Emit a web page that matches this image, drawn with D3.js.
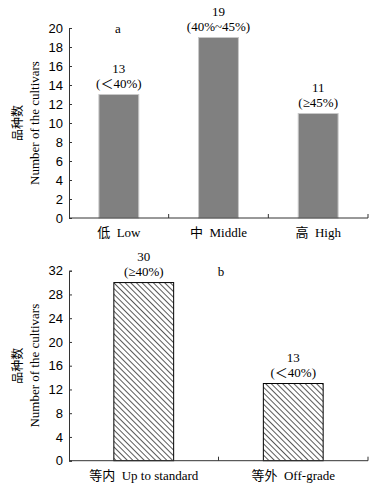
<!DOCTYPE html>
<html>
<head>
<meta charset="utf-8">
<script src="https://cdn.jsdelivr.net/npm/d3@7"></script>
<style>
  body { margin: 0; background: #fff; }
  svg { display: block; font-family: "Liberation Serif", "Noto Sans CJK SC", serif; }
  .tick text { font-size: 13px; fill: #000; }
</style>
</head>
<body>
<div id="chart"></div>
<script>
// panel a: amylose content groups
const catsA = ["低  Low", "中  Middle", "高  High"];
const valsA = [13, 19, 11];
const notesA = ["(＜40%)", "(40%~45%)", "(≥45%)"];
const ticksA = [0, 2, 4, 6, 8, 10, 12, 14, 16, 18, 20];

// panel b: standard grade
const catsB = ["等内  Up to standard", "等外  Off-grade"];
const valsB = [30, 13];
const notesB = ["(≥40%)", "(＜40%)"];
const ticksB = [0, 4, 8, 12, 16, 20, 24, 28, 32];

const W = 381, H = 493;
const svg = d3.select("#chart").append("svg")
  .attr("width", W).attr("height", H);

const defs = svg.append("defs");
const pat = defs.append("pattern")
  .attr("id", "hatch")
  .attr("patternUnits", "userSpaceOnUse")
  .attr("width", 4).attr("height", 4)
  .attr("patternTransform", "rotate(-45)");
pat.append("rect").attr("width", 4).attr("height", 4).attr("fill", "#fff");
pat.append("line").attr("x1", 0).attr("y1", 0).attr("x2", 0).attr("y2", 4)
  .attr("stroke", "#000").attr("stroke-width", 1.3);

function panel(cats, vals, notes, ticks, top, bottom, fill, stroke, letter, letterX) {
  const left = 69, right = 368;
  const x = d3.scaleBand().domain(cats).range([left, right])
    .paddingInner(0.6).paddingOuter(0.3);
  const y = d3.scaleLinear().domain([0, d3.max(ticks)]).range([bottom, top]);
  const g = svg.append("g");

  // bars
  g.selectAll("rect.bar").data(cats).join("rect")
    .attr("class", "bar")
    .attr("x", d => x(d))
    .attr("width", x.bandwidth())
    .attr("y", (d, i) => y(vals[i]))
    .attr("height", (d, i) => y(0) - y(vals[i]))
    .attr("fill", fill)
    .attr("stroke", stroke)
    .attr("stroke-width", 1);

  // y axis, ticks pointing inward
  const yAxis = d3.axisLeft(y).tickValues(ticks).tickSize(-3).tickPadding(6);
  g.append("g").attr("transform", `translate(${left},0)`).call(yAxis)
    .call(s => s.select(".domain").attr("stroke", "#333"))
    .call(s => s.selectAll(".tick line").attr("stroke", "#333"));

  // x axis line with small ticks between groups
  g.append("line").attr("x1", left).attr("x2", right)
    .attr("y1", y(0)).attr("y2", y(0)).attr("stroke", "#333");
  g.selectAll("line.sep").data(cats).join("line")
    .attr("class", "sep")
    .attr("x1", (d, i) => left + (i + 1) * (right - left) / cats.length)
    .attr("x2", (d, i) => left + (i + 1) * (right - left) / cats.length)
    .attr("y1", y(0)).attr("y2", y(0) - 4).attr("stroke", "#333");

  // category labels
  g.selectAll("text.cat").data(cats).join("text")
    .attr("class", "cat")
    .attr("x", d => x(d) + x.bandwidth() / 2)
    .attr("y", y(0) + 19)
    .attr("text-anchor", "middle")
    .attr("font-size", 13)
    .style("white-space", "pre")
    .text(d => d);

  // value labels
  g.selectAll("text.val").data(cats).join("text")
    .attr("class", "val")
    .attr("x", d => x(d) + x.bandwidth() / 2)
    .attr("y", (d, i) => y(vals[i]) - 22)
    .attr("text-anchor", "middle").attr("font-size", 13)
    .text((d, i) => vals[i]);
  g.selectAll("text.note").data(cats).join("text")
    .attr("class", "note")
    .attr("x", d => x(d) + x.bandwidth() / 2)
    .attr("y", (d, i) => y(vals[i]) - 7)
    .attr("text-anchor", "middle").attr("font-size", 13)
    .text((d, i) => notes[i]);

  // panel letter
  g.append("text").attr("x", letterX).attr("y", top + 5)
    .attr("text-anchor", "middle").attr("font-size", 13).text(letter);

  // y title
  const cy = (top + bottom) / 2;
  g.append("text").attr("transform", `translate(22,${cy}) rotate(-90)`)
    .attr("text-anchor", "middle").attr("font-size", 12)
    .attr("font-family", "Noto Sans CJK SC").text("品种数");
  g.append("text").attr("transform", `translate(39,${cy}) rotate(-90)`)
    .attr("text-anchor", "middle").attr("font-size", 13)
    .text("Number of the cultivars");
}

panel(catsA, valsA, notesA, ticksA, 28, 218, "#808080", "#c8c8c8", "a", 118);
panel(catsB, valsB, notesB, ticksB, 270.7, 460.7, "url(#hatch)", "#000", "b", 221);
</script>
</body>
</html>
